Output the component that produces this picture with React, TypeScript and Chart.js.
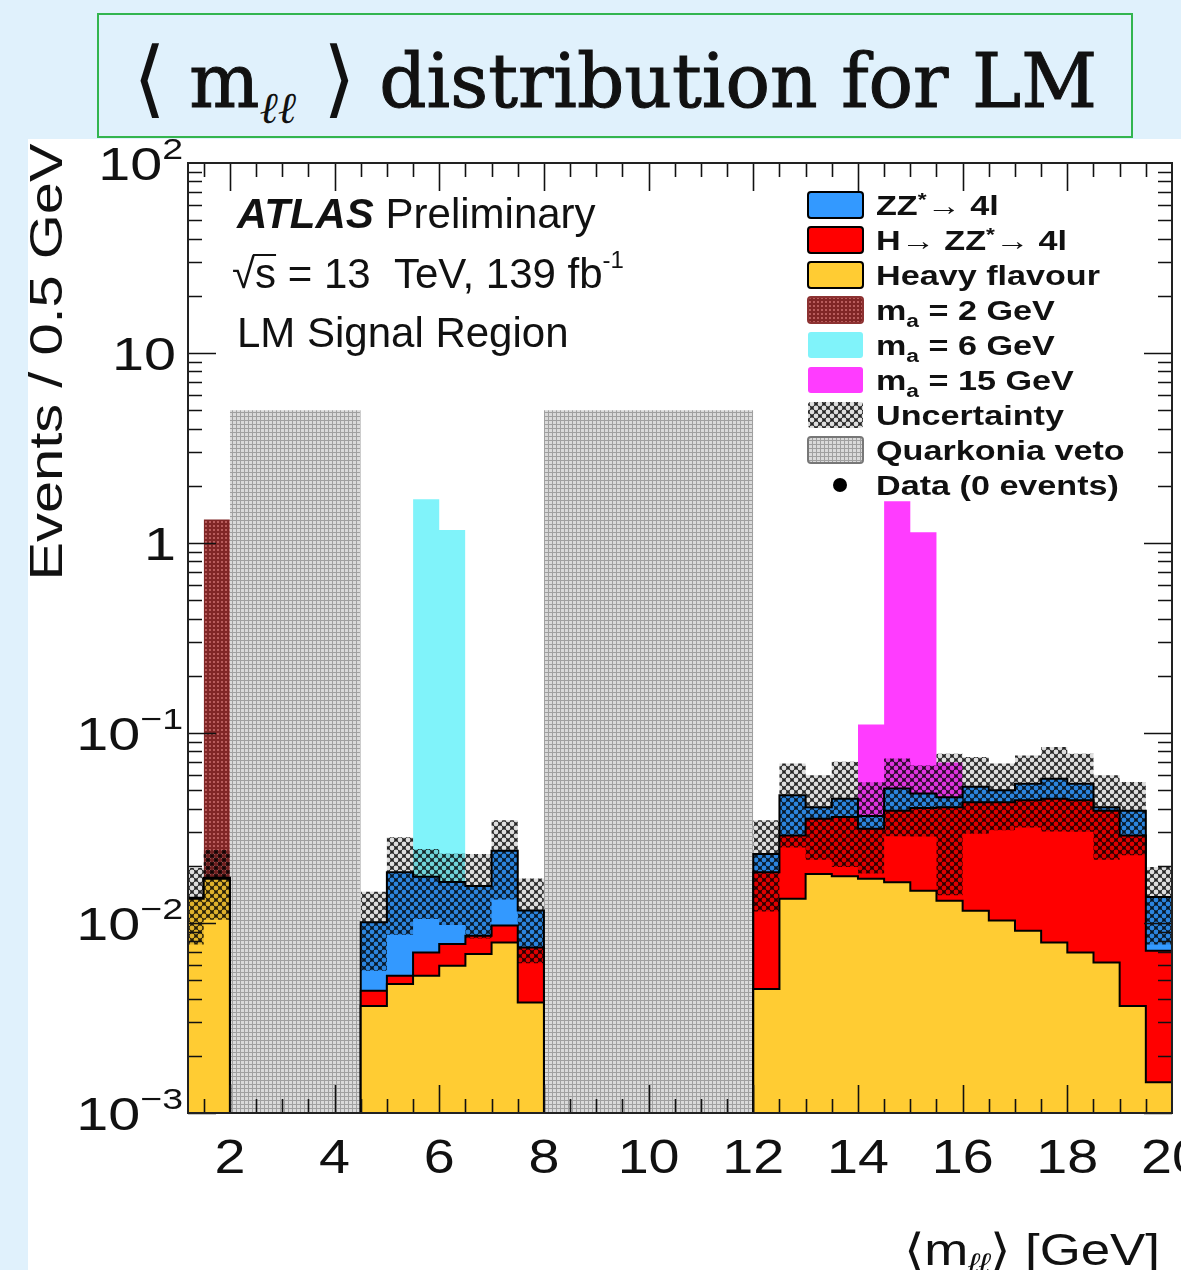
import React, { useEffect, useRef } from 'react';
import { Chart, registerables } from 'chart.js';

Chart.register(...registerables);

const X_MIN = 1.2;
const X_MAX = 20;
const Y_MIN = 1e-3;
const Y_MAX = 100;

// 0.5 GeV bins of the three mass windows (first bin truncated by the axis)
const binLo = [1.2, 1.5, 4.5, 5.0, 5.5, 6.0, 6.5, 7.0, 7.5, 12.0, 12.5, 13.0, 13.5, 14.0, 14.5, 15.0, 15.5, 16.0, 16.5, 17.0, 17.5, 18.0, 18.5, 19.0, 19.5];
const binHi = [1.5, 2.0, 5.0, 5.5, 6.0, 6.5, 7.0, 7.5, 8.0, 12.5, 13.0, 13.5, 14.0, 14.5, 15.0, 15.5, 16.0, 16.5, 17.0, 17.5, 18.0, 18.5, 19.0, 19.5, 20.0];

const heavyFlavour = [0.0134, 0.0171, 0.00366, 0.00477, 0.00528, 0.00596, 0.00687, 0.0079, 0.00382, 0.00449, 0.0134, 0.0181, 0.0176, 0.0171, 0.0164, 0.0148, 0.0131, 0.0116, 0.0103, 0.0091, 0.0079, 0.007, 0.0062, 0.00366, 0.00145];
const higgsZZ4l = [0.0001, 0.0001, 0.00074, 0.00051, 0.00172, 0.00179, 0.00171, 0.0018, 0.00362, 0.014, 0.0155, 0.0173, 0.0185, 0.0142, 0.0226, 0.0255, 0.0276, 0.0316, 0.0329, 0.0351, 0.0372, 0.0372, 0.0328, 0.0252, 0.0057];
const zzStar4l = [0.0001, 0.0001, 0.0057, 0.0132, 0.0105, 0.0087, 0.0071, 0.0143, 0.0042, 0.0046, 0.0181, 0.0053, 0.009, 0.0053, 0.012, 0.0077, 0.0052, 0.0089, 0.0067, 0.0098, 0.0123, 0.0098, 0.0017, 0.0101, 0.00655];
const bkgUncertainty = [0.0059, 0.0069, 0.0045, 0.0098, 0.007, 0.0067, 0.0074, 0.0107, 0.0055, 0.0116, 0.022, 0.0192, 0.0254, 0.0184, 0.0224, 0.0195, 0.0319, 0.0226, 0.0191, 0.0222, 0.0271, 0.0238, 0.0192, 0.0162, 0.006];

// signal hypotheses
const sig2Lo = [1.5];
const sig2Hi = [2.0];
const sig2Val = [1.33];
const sig6Lo = [5.5, 6.0];
const sig6Hi = [6.0, 6.5];
const sig6Val = [1.7, 1.17];
const sig15Lo = [14.0, 14.5, 15.0, 15.5];
const sig15Hi = [14.5, 15.0, 15.5, 16.0];
const sig15Val = [0.111, 1.66, 1.14, 0.07];

// quarkonia veto windows
const vetoLo = [2.0, 8.0];
const vetoHi = [4.5, 12.0];
const vetoVal = [5, 5];

const xTickValues = [2, 4, 6, 8, 10, 12, 14, 16, 18, 20];
const yDecadeValues = [100, 10, 1, 0.1, 0.01, 0.001];
const yDecadeBase = ['10', '10', '1', '10', '10', '10'];
const yDecadeExp = ['2', '', '', '\u22121', '\u22122', '\u22123'];

const SANS = '"Liberation Sans", Arial, Helvetica, sans-serif';

type Pt = { x: number; y: number | null };

function stepPoints(lo: number[], hi: number[], vals: number[], drop: boolean): Pt[] {
  const pts: Pt[] = [];
  for (let i = 0; i < vals.length; i++) {
    const newWindow = i === 0 || lo[i] !== hi[i - 1];
    if (newWindow) {
      if (i > 0) {
        pts.push({ x: hi[i - 1], y: vals[i - 1] });
        if (drop) pts.push({ x: hi[i - 1], y: Y_MIN });
        pts.push({ x: (hi[i - 1] + lo[i]) / 2, y: null });
      }
      if (drop) pts.push({ x: lo[i], y: Y_MIN });
    }
    pts.push({ x: lo[i], y: vals[i] });
  }
  const n = vals.length - 1;
  pts.push({ x: hi[n], y: vals[n] });
  if (drop) pts.push({ x: hi[n], y: Y_MIN });
  return pts;
}

type Run = { t: string; size: number; weight?: string; style?: string; dy?: number; family?: string };

function fontOf(r: Run) {
  return `${r.style || 'normal'} ${r.weight || 'normal'} ${r.size}px ${r.family || SANS}`;
}

function drawRuns(ctx: CanvasRenderingContext2D, runs: Run[], x: number, y: number, sx: number, align: string) {
  const widths = runs.map((r) => {
    ctx.font = fontOf(r);
    return ctx.measureText(r.t).width;
  });
  const total = widths.reduce((s, w) => s + w, 0);
  let cx = align === 'left' ? 0 : align === 'right' ? -total : -total / 2;
  ctx.save();
  ctx.translate(x, y);
  ctx.scale(sx, 1);
  ctx.textBaseline = 'alphabetic';
  ctx.textAlign = 'left';
  runs.forEach((r, i) => {
    ctx.font = fontOf(r);
    ctx.fillText(r.t, cx, -(r.dy || 0));
    cx += widths[i];
  });
  ctx.restore();
  return total * sx;
}

function makePattern(size: number, draw: (g: CanvasRenderingContext2D, s: number) => void) {
  const c = document.createElement('canvas');
  c.width = size;
  c.height = size;
  const g = c.getContext('2d') as CanvasRenderingContext2D;
  draw(g, size);
  const tmp = document.createElement('canvas').getContext('2d') as CanvasRenderingContext2D;
  return tmp.createPattern(c, 'repeat') as CanvasPattern;
}

export default function App() {
  const canvasRef = useRef<HTMLCanvasElement | null>(null);

  useEffect(() => {
    const canvas = canvasRef.current;
    if (!canvas) return;

    const hatch = makePattern(8, (g, s) => {
      g.fillStyle = 'rgba(0,0,0,0.85)';
      g.fillRect(0, 0, s, s);
      g.globalCompositeOperation = 'destination-out';
      const holes = [[4, 4], [0, 0], [8, 0], [0, 8], [8, 8]];
      holes.forEach(([hx, hy]) => {
        g.beginPath();
        g.arc(hx, hy, 2.4, 0, Math.PI * 2);
        g.fill();
      });
    });
    const vetoPat = makePattern(4, (g) => {
      g.fillStyle = 'rgb(160,160,160)';
      g.fillRect(0, 0, 4, 4);
      g.fillStyle = 'rgb(218,218,218)';
      g.fillRect(1, 1, 3, 3);
    });
    const brownPat = makePattern(4, (g) => {
      g.fillStyle = 'rgb(128,38,38)';
      g.fillRect(0, 0, 4, 4);
      g.fillStyle = 'rgb(184,92,92)';
      g.fillRect(1, 1, 2, 2);
    });

    const BLUE = '#3399ff';
    const RED = '#ff0000';
    const YELLOW = '#ffcc33';
    const CYAN = 'rgb(128,243,250)';
    const MAGENTA = 'rgb(255,60,255)';

    const cumH = heavyFlavour.map((v, i) => v + higgsZZ4l[i]);
    const cumZZ = cumH.map((v, i) => v + zzStar4l[i]);
    const bandUp = cumZZ.map((v, i) => v + bkgUncertainty[i]);
    const bandLow = cumZZ.map((v, i) => Math.max(v - bkgUncertainty[i], Y_MIN * 1.01));

    const base = { stepped: true, pointRadius: 0, spanGaps: false, borderJoinStyle: 'miter', borderCapStyle: 'butt' };

    const overlay = {
      id: 'atlasOverlay',
      afterDraw(chart: any) {
        const ctx: CanvasRenderingContext2D = chart.ctx;
        const a = chart.chartArea;
        const xs = chart.scales.x;
        const ys = chart.scales.y;
        ctx.save();
        ctx.fillStyle = '#000';
        ctx.strokeStyle = '#111';
        ctx.lineWidth = 1.6;
        ctx.beginPath();
        for (let v = 1.5; v <= 19.75; v += 0.5) {
          const major = Math.abs(v / 2 - Math.round(v / 2)) < 1e-6;
          const len = major ? 28 : 14;
          const px = Math.round(xs.getPixelForValue(v)) + 0.5;
          ctx.moveTo(px, a.bottom);
          ctx.lineTo(px, a.bottom - len);
          ctx.moveTo(px, a.top);
          ctx.lineTo(px, a.top + len);
        }
        for (let e = -3; e <= 1; e++) {
          for (let m = 1; m <= 9; m++) {
            const v = m * Math.pow(10, e);
            const len = m === 1 ? 28 : 14;
            const py = Math.round(ys.getPixelForValue(v)) + 0.5;
            ctx.moveTo(a.left, py);
            ctx.lineTo(a.left + len, py);
            ctx.moveTo(a.right, py);
            ctx.lineTo(a.right - len, py);
          }
        }
        ctx.stroke();
        ctx.lineWidth = 2;
        ctx.strokeStyle = '#222';
        ctx.strokeRect(a.left, a.top, a.right - a.left, a.bottom - a.top);

        // x tick labels
        ctx.fillStyle = '#111';
        xTickValues.forEach((v) => {
          drawRuns(ctx, [{ t: String(v), size: 48 }], xs.getPixelForValue(v), a.bottom + 60, 1.16, 'center');
        });
        // y tick labels
        yDecadeValues.forEach((v, i) => {
          const py = ys.getPixelForValue(v);
          const runs: Run[] = [{ t: yDecadeBase[i], size: 46 }];
          if (yDecadeExp[i]) runs.push({ t: yDecadeExp[i], size: 30, dy: 21 });
          drawRuns(ctx, runs, yDecadeExp[i] ? 183 : 176, py + 17, 1.25, 'right');
        });
        // axis titles
        ctx.save();
        ctx.translate(62, 362);
        ctx.rotate(-Math.PI / 2);
        drawRuns(ctx, [{ t: 'Events / 0.5 GeV', size: 47 }], 0, 0, 1.23, 'center');
        ctx.restore();
        drawRuns(
          ctx,
          [
            { t: '\u27E8m', size: 44 },
            { t: '\u2113\u2113', size: 28, dy: -8, style: 'italic' },
            { t: '\u27E9 [GeV]', size: 44 },
          ],
          1160,
          1265,
          1.2,
          'right'
        );

        // ATLAS labels
        drawRuns(ctx, [{ t: 'ATLAS', size: 42, weight: 'bold', style: 'italic' }, { t: ' Preliminary', size: 42 }], 237, 228, 1, 'left');
        ctx.font = fontOf({ t: '', size: 42 });
        const wRad = ctx.measureText('\u221A').width;
        const wS = ctx.measureText('s').width;
        drawRuns(
          ctx,
          [
            { t: '\u221A', size: 42 },
            { t: 's = 13  TeV, 139 fb', size: 42 },
            { t: '-1', size: 24, dy: 20 },
          ],
          232,
          288,
          1,
          'left'
        );
        ctx.beginPath();
        ctx.lineWidth = 2;
        ctx.strokeStyle = '#111';
        ctx.moveTo(232 + wRad - 2, 288 - 33);
        ctx.lineTo(232 + wRad + wS, 288 - 33);
        ctx.stroke();
        drawRuns(ctx, [{ t: 'LM Signal Region', size: 42 }], 237, 347, 1, 'left');

        // legend
        const bx = 808;
        const bw = 55;
        const bh = 26;
        const rowY = (i: number) => 205 + 35 * i;
        const boxes: { fill: any; stroke: string | null }[] = [
          { fill: BLUE, stroke: '#000' },
          { fill: RED, stroke: '#000' },
          { fill: YELLOW, stroke: '#000' },
          { fill: brownPat, stroke: 'rgb(140,50,50)' },
          { fill: CYAN, stroke: null },
          { fill: MAGENTA, stroke: null },
          { fill: hatch, stroke: null },
          { fill: vetoPat, stroke: '#777' },
        ];
        boxes.forEach((b, i) => {
          const y0 = rowY(i) - bh / 2;
          ctx.beginPath();
          ctx.roundRect(bx, y0, bw, bh, 3);
          ctx.fillStyle = b.fill;
          ctx.fill();
          if (b.stroke) {
            ctx.lineWidth = 2;
            ctx.strokeStyle = b.stroke;
            ctx.stroke();
          }
        });
        ctx.beginPath();
        ctx.fillStyle = '#000';
        ctx.arc(840, rowY(8), 7, 0, Math.PI * 2);
        ctx.fill();

        const L = 27;
        const sup: Run = { t: '*', size: 18, weight: 'bold', dy: 9 };
        const lg: Run[][] = [
          [{ t: 'ZZ', size: L, weight: 'bold' }, sup, { t: '\u2192 4l', size: L, weight: 'bold' }],
          [{ t: 'H\u2192 ZZ', size: L, weight: 'bold' }, sup, { t: '\u2192 4l', size: L, weight: 'bold' }],
          [{ t: 'Heavy flavour', size: L, weight: 'bold' }],
          [{ t: 'm', size: L, weight: 'bold' }, { t: 'a', size: 18, weight: 'bold', dy: -7 }, { t: ' = 2 GeV', size: L, weight: 'bold' }],
          [{ t: 'm', size: L, weight: 'bold' }, { t: 'a', size: 18, weight: 'bold', dy: -7 }, { t: ' = 6 GeV', size: L, weight: 'bold' }],
          [{ t: 'm', size: L, weight: 'bold' }, { t: 'a', size: 18, weight: 'bold', dy: -7 }, { t: ' = 15 GeV', size: L, weight: 'bold' }],
          [{ t: 'Uncertainty', size: L, weight: 'bold' }],
          [{ t: 'Quarkonia veto', size: L, weight: 'bold' }],
          [{ t: 'Data (0 events)', size: L, weight: 'bold' }],
        ];
        ctx.fillStyle = '#111';
        lg.forEach((runs, i) => {
          drawRuns(ctx, runs, 876, rowY(i) + 10, 1.265, 'left');
        });
        ctx.restore();
      },
    };

    const chart = new Chart(canvas, {
      type: 'line',
      data: {
        datasets: [
          { ...base, label: 'Uncertainty', data: stepPoints(binLo, binHi, bandUp, false), fill: 1, backgroundColor: hatch, borderWidth: 0 },
          { ...base, label: 'band low', data: stepPoints(binLo, binHi, bandLow, false), fill: false, borderWidth: 0, backgroundColor: 'rgba(0,0,0,0)' },
          { ...base, label: 'Heavy flavour', data: stepPoints(binLo, binHi, heavyFlavour, true), fill: 'start', backgroundColor: YELLOW, borderColor: '#000', borderWidth: 2 },
          { ...base, label: 'H→ZZ*→4l', data: stepPoints(binLo, binHi, cumH, true), fill: 'start', backgroundColor: RED, borderColor: '#000', borderWidth: 2 },
          { ...base, label: 'ZZ*→4l', data: stepPoints(binLo, binHi, cumZZ, true), fill: 'start', backgroundColor: BLUE, borderColor: '#000', borderWidth: 2 },
          { ...base, label: 'ma = 15 GeV', data: stepPoints(sig15Lo, sig15Hi, sig15Val, false), fill: 'start', backgroundColor: MAGENTA, borderWidth: 0 },
          { ...base, label: 'ma = 6 GeV', data: stepPoints(sig6Lo, sig6Hi, sig6Val, false), fill: 'start', backgroundColor: CYAN, borderWidth: 0 },
          { ...base, label: 'ma = 2 GeV', data: stepPoints(sig2Lo, sig2Hi, sig2Val, false), fill: 'start', backgroundColor: brownPat, borderWidth: 0 },
          { ...base, label: 'Quarkonia veto', data: stepPoints(vetoLo, vetoHi, vetoVal, false), fill: 'start', backgroundColor: vetoPat, borderWidth: 0 },
        ] as any,
      },
      options: {
        responsive: false,
        animation: false,
        events: [],
        layout: { padding: { left: 0, right: 9, top: 163, bottom: 0 } },
        plugins: { legend: { display: false }, tooltip: { enabled: false }, title: { display: false } },
        scales: {
          x: {
            type: 'linear',
            min: X_MIN,
            max: X_MAX,
            grid: { display: false, drawTicks: false },
            border: { display: false },
            ticks: { display: false, stepSize: 2, includeBounds: false },
            afterFit: (s: any) => {
              s.height = 157;
            },
          },
          y: {
            type: 'logarithmic',
            min: Y_MIN,
            max: Y_MAX,
            grid: { display: false, drawTicks: false },
            border: { display: false },
            ticks: { display: false },
            afterFit: (s: any) => {
              s.width = 188;
            },
          },
        },
      } as any,
      plugins: [overlay],
    });
    return () => chart.destroy();
  }, []);

  return (
    <div style={{ position: 'absolute', left: 0, top: 0, width: 1181, height: 1270, background: 'rgb(224,241,252)', overflow: 'hidden' }}>
      <div style={{ position: 'absolute', left: 28, top: 139, width: 1153, height: 1131, background: '#fff' }} />
      <div
        style={{
          position: 'absolute',
          left: 97,
          top: 13,
          width: 1036,
          height: 125,
          boxSizing: 'border-box',
          border: '2px solid #33b54f',
          display: 'flex',
          alignItems: 'center',
          justifyContent: 'center',
          color: '#111',
        }}
      >
        <div style={{ fontFamily: '"DejaVu Serif", serif', fontWeight: 'normal', fontSize: 74, whiteSpace: 'nowrap', lineHeight: 1, marginTop: 4, WebkitTextStroke: '1px #111' }}>
          <span style={{ fontSize: 84, WebkitTextStroke: '0px' }}>{'\u27E8'}</span>
          <span>{' m'}</span>
          <span style={{ fontStyle: 'italic', fontSize: 44, position: 'relative', top: 16, WebkitTextStroke: '0px' }}>{'\u2113\u2113'}</span>
          <span style={{ fontSize: 84, WebkitTextStroke: '0px' }}>{' \u27E9'}</span>
          <span>{' distribution for LM'}</span>
        </div>
      </div>
      <canvas ref={canvasRef} width={1181} height={1270} style={{ position: 'absolute', left: 0, top: 0 }} />
    </div>
  );
}
